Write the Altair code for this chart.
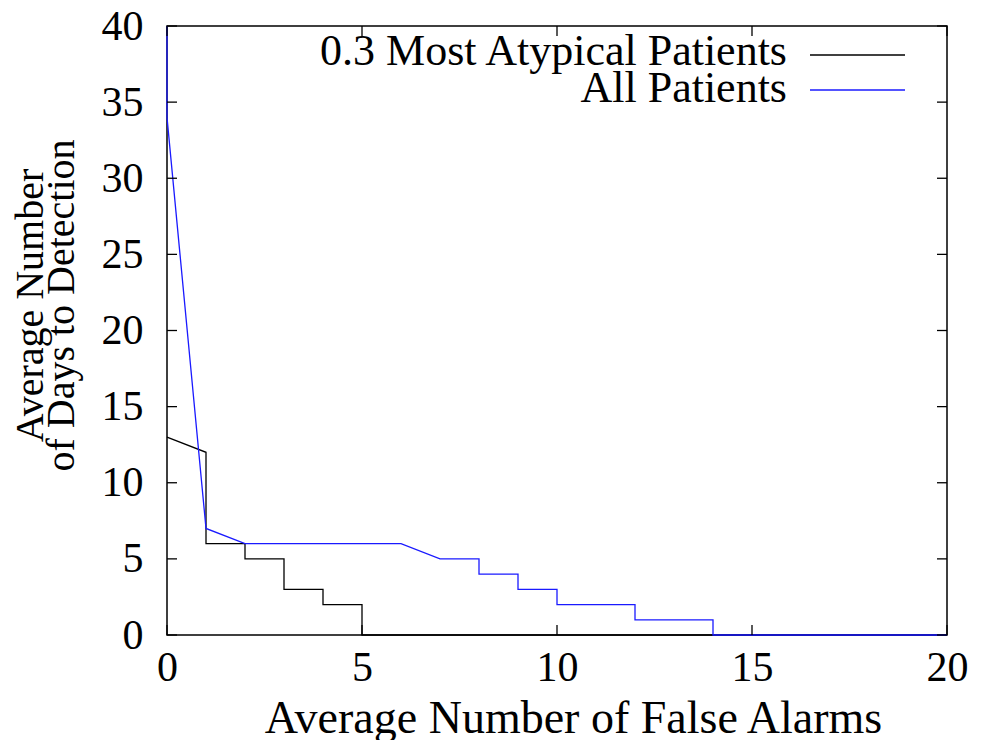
import altair as alt
import pandas as pd

# ---- data ----
blue_x = [0, 0, 1, 2, 6, 7, 8, 8, 9, 9, 10, 10, 12, 12, 14, 14, 20]
blue_y = [40, 34, 7, 6, 6, 5, 5, 4, 4, 3, 3, 2, 2, 1, 1, 0, 0]
black_x = [0, 1, 1, 2, 2, 3, 3, 4, 4, 5, 5, 20]
black_y = [13, 12, 6, 6, 5, 5, 3, 3, 2, 2, 0, 0]
series_names = ["0.3 Most Atypical Patients", "All Patients"]
series_colors = ["#000000", "#1a1aff"]
x_ticks = [0, 5, 10, 15, 20]
y_ticks = [0, 5, 10, 15, 20, 25, 30, 35, 40]

W, H = 780, 609
FONT = "Liberation Serif"

black_df = pd.DataFrame({"x": black_x, "y": black_y, "i": range(len(black_x))})
blue_df = pd.DataFrame({"x": blue_x, "y": blue_y, "i": range(len(blue_x))})
xt_df = pd.DataFrame({"v": x_ticks})
yt_df = pd.DataFrame({"v": y_ticks})

xscale = alt.Scale(domain=[0, 20], nice=False, zero=False)
yscale = alt.Scale(domain=[0, 40], nice=False, zero=False)

xaxis = alt.Axis(values=x_ticks, domain=False, ticks=False, grid=False,
                 labelFont=FONT, labelFontSize=42, labelColor="#000",
                 labelPadding=12, labelFlush=False,
                 title="Average Number of False Alarms", titleFont=FONT,
                 titleFontSize=46, titleFontWeight="normal", titleColor="#000",
                 titleX=406, titleY=97, titleBaseline="alphabetic", titleAlign="center")
yaxis = alt.Axis(values=y_ticks, domain=False, ticks=False, grid=False,
                 labelFont=FONT, labelFontSize=42, labelColor="#000",
                 labelPadding=24, labelFlush=False, labelBaseline="middle",
                 title=["Average Number", "of Days to Detection"], titleFont=FONT,
                 titleFontSize=40, titleFontWeight="normal", titleColor="#000",
                 titleAngle=-90, titleLineHeight=31,
                 titleX=-125, titleY=279, titleBaseline="alphabetic", titleAlign="center")

black_line = alt.Chart(black_df).mark_line(color=series_colors[0], strokeWidth=1.3).encode(
    x=alt.X("x:Q", scale=xscale, axis=xaxis),
    y=alt.Y("y:Q", scale=yscale, axis=yaxis),
    order="i:Q",
)
blue_line = alt.Chart(blue_df).mark_line(color=series_colors[1], strokeWidth=1.3).encode(
    x=alt.X("x:Q", scale=xscale),
    y=alt.Y("y:Q", scale=yscale),
    order="i:Q",
)

tick_style = dict(color="#000", strokeWidth=1.3)
xt_bottom = alt.Chart(xt_df).mark_rule(**tick_style).encode(
    x=alt.X("v:Q", scale=xscale), y=alt.value(H), y2=alt.value(H - 10))
xt_top = alt.Chart(xt_df).mark_rule(**tick_style).encode(
    x=alt.X("v:Q", scale=xscale), y=alt.value(0), y2=alt.value(10))
yt_left = alt.Chart(yt_df).mark_rule(**tick_style).encode(
    y=alt.Y("v:Q", scale=yscale), x=alt.value(0), x2=alt.value(10))
yt_right = alt.Chart(yt_df).mark_rule(**tick_style).encode(
    y=alt.Y("v:Q", scale=yscale), x=alt.value(W), x2=alt.value(W - 10))

legend_layers = []
text_y = [39, 76]
line_y = [29, 64]
for name, col, ty, ly in zip(series_names, series_colors, text_y, line_y):
    ldf = pd.DataFrame({"label": [name]})
    legend_layers.append(
        alt.Chart(ldf).mark_text(font=FONT, fontSize=44, align="right",
                                 baseline="alphabetic", color="#000").encode(
            text="label:N", x=alt.value(620), y=alt.value(ty)))
    legend_layers.append(
        alt.Chart(ldf).mark_rule(color=col, strokeWidth=1.3).encode(
            x=alt.value(643), x2=alt.value(738), y=alt.value(ly)))

chart = alt.layer(
    black_line, blue_line, xt_bottom, xt_top, yt_left, yt_right, *legend_layers
).properties(
    width=W, height=H,
    autosize=alt.AutoSizeParams(type="none"),
    padding={"left": 167, "top": 26, "right": 35, "bottom": 105},
    background="white",
).configure_view(stroke="#000", strokeWidth=1.5)

chart.save("out.html", embed_options={"renderer": "svg", "actions": False})
